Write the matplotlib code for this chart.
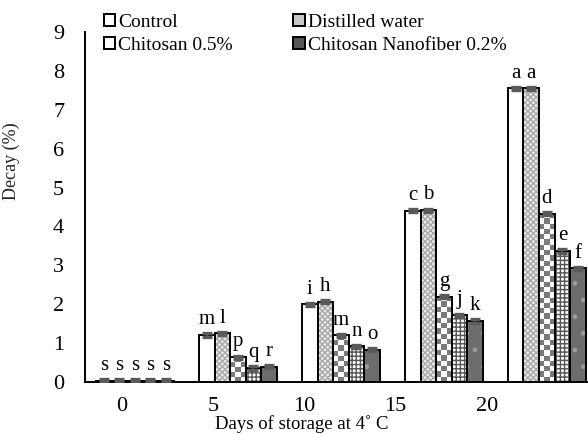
import numpy as np
import matplotlib
matplotlib.use("Agg")
import matplotlib.pyplot as plt
from matplotlib.colors import ListedColormap
from matplotlib.patches import Patch

plt.rcParams['font.family'] = ['Liberation Serif', 'DejaVu Serif']

# data
days = ["0", "5", "10", "15", "20"]
control = [0.03, 1.21, 2.00, 4.40, 7.55]
distilled = [0.03, 1.25, 2.07, 4.42, 7.55]
chitosan = [0.03, 0.64, 1.20, 2.19, 4.33]
nano_01 = [0.03, 0.36, 0.92, 1.72, 3.37]
nano_02 = [0.03, 0.39, 0.83, 1.57, 2.92]
errors = [0.04, 0.04, 0.04, 0.04, 0.04]

letters = [
    ["s", "s", "s", "s", "s"],
    ["m", "l", "p", "q", "r"],
    ["i", "h", "m", "n", "o"],
    ["c", "b", "g", "j", "k"],
    ["a", "a", "d", "e", "f"],
]

series = [control, distilled, chitosan, nano_01, nano_02]

fig = plt.figure(figsize=(5.88, 4.34), dpi=100)
ax = fig.add_axes([85 / 588, 52 / 434, 503 / 588, 350 / 434])

x = np.arange(len(days))
w = 0.151

styles = [
    dict(fc="white", hatch=None, hc=None),
    dict(fc="#ececec", hatch="xxxxxx", hc="#a8a8a8"),
    dict(fc="white", hatch=None, hc=None),  # checkerboard drawn below
    dict(fc="white", hatch="++++", hc="#555555"),
    dict(fc="#6d6d6d", hatch=".", hc="#9c9c9c"),
]

all_bars = []
for j, vals in enumerate(series):
    st = styles[j]
    pos = x + (j - 2) * w
    if st["hatch"]:
        ax.bar(pos, vals, w, color=st["fc"], hatch=st["hatch"],
               edgecolor=st["hc"], linewidth=0, zorder=2)
    else:
        ax.bar(pos, vals, w, color=st["fc"], linewidth=0, zorder=2)
    bars = ax.bar(pos, vals, w, fill=False, edgecolor="black",
                  linewidth=1.4, zorder=4)
    all_bars.append(bars)
    ax.errorbar(pos, vals, yerr=errors, fmt="none", ecolor="#5a5a5a",
                capsize=3.8, capthick=2.4, elinewidth=1.2, zorder=5)
    for i, b in enumerate(bars):
        ax.annotate(letters[i][j], (b.get_x() + w / 2, vals[i] + errors[i]),
                    xytext=(0, 3), textcoords="offset points",
                    ha="center", va="bottom", fontsize=15)

# checkerboard fill for chitosan 0.5%
checker = ListedColormap(["white", "#7a7a7a"])
for b in all_bars[2]:
    x0, h = b.get_x(), b.get_height()
    nrows = max(1, int(round(h * 38.9 / 5.2)))
    grid = np.indices((nrows, 3)).sum(axis=0) % 2
    im = ax.imshow(grid, cmap=checker, extent=[x0, x0 + w, 0, h],
                   aspect="auto", interpolation="nearest", origin="lower",
                   zorder=3)
    im.set_clip_path(b)

ax.set_xlim(-0.485, 4.40)
ax.set_ylim(0, 9)
ax.set_yticks(range(0, 10))
ax.set_xticks(x * 0.886 - 0.126)
ax.set_xticklabels(days)
ax.tick_params(axis="both", length=0, labelsize=16)
ax.tick_params(axis="y", pad=15)
ax.tick_params(axis="x", pad=11)
for s in ["top", "right"]:
    ax.spines[s].set_visible(False)
for s in ["left", "bottom"]:
    ax.spines[s].set_linewidth(1.4)

ax.set_xlabel("Days of storage at 4\u02da C", fontsize=13.5)
ax.xaxis.set_label_coords(0.43, -0.095)
ax.set_ylabel("Decay (%)", fontsize=13, color="#222222")
ax.yaxis.set_label_coords(-0.13, 0.63)

handles = [
    Patch(facecolor="white", edgecolor="black", linewidth=1.4),
    Patch(facecolor="white", edgecolor="black", linewidth=1.4),
    Patch(facecolor="#c8c8c8", edgecolor="black", linewidth=1.4),
    Patch(facecolor="#555555", edgecolor="black", linewidth=1.4),
]
names = ["Control", "Chitosan 0.5%", "Distilled water", "Chitosan Nanofiber 0.2%"]
fig.legend(handles, names, ncol=2, loc="upper left",
           bbox_to_anchor=(92 / 588, 0.995), frameon=False, fontsize=14,
           handlelength=0.6, handleheight=0.6, handletextpad=0.15,
           columnspacing=3.1, labelspacing=0.3, borderaxespad=0.2)

fig.savefig("out.png", dpi=100)
